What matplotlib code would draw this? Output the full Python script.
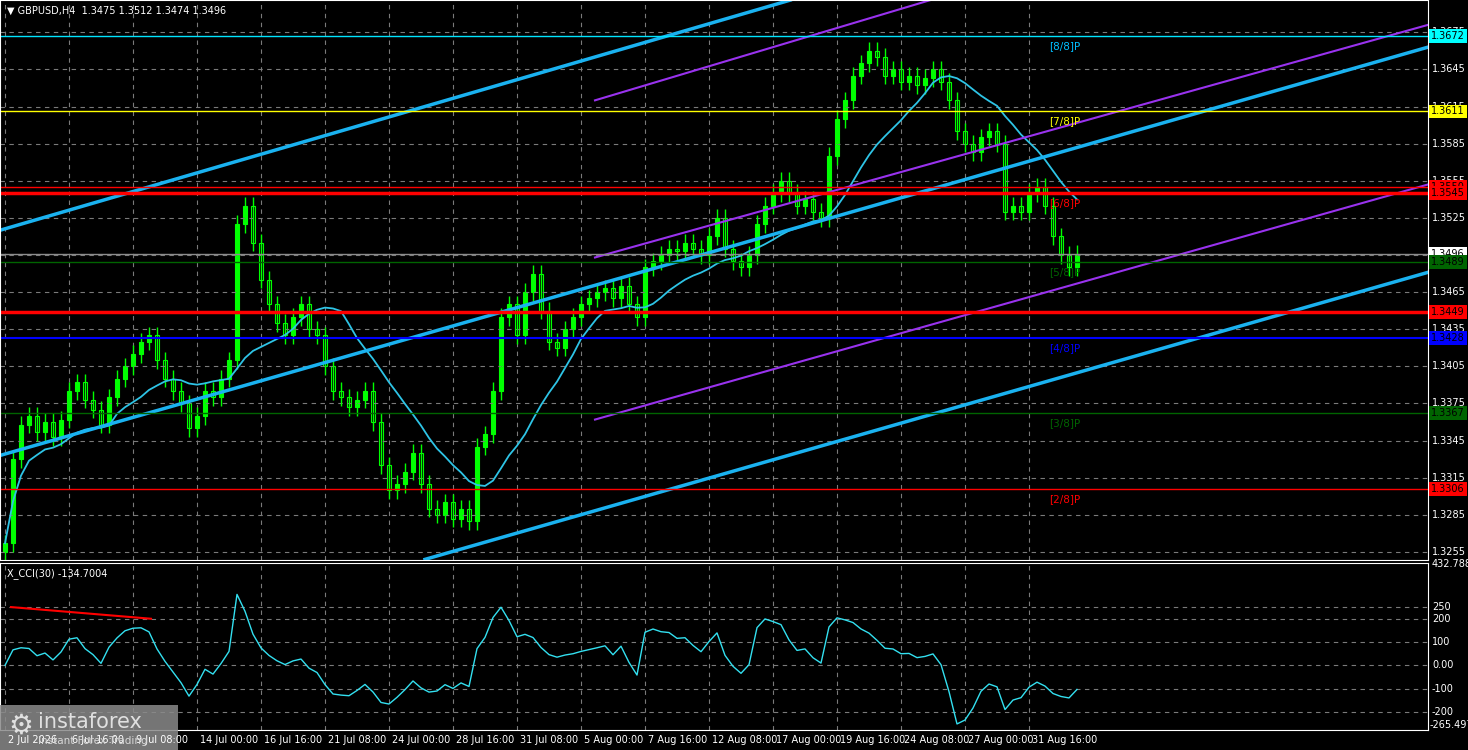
import matplotlib
matplotlib.use("Agg")
import matplotlib.pyplot as plt
import numpy as np
import pandas as pd

# closes, one candle per 2 H4 bars
closes = [1.3262, 1.3330, 1.3358, 1.3365, 1.3352, 1.3360, 1.3348, 1.3362, 1.3385, 1.3392,
          1.3378, 1.3370, 1.3358, 1.3380, 1.3395, 1.3405, 1.3415, 1.3425, 1.3430, 1.3410,
          1.3395, 1.3385, 1.3375, 1.3355, 1.3365, 1.3385, 1.3380, 1.3395, 1.3410, 1.3520,
          1.3535, 1.3505, 1.3475, 1.3455, 1.3440, 1.3430, 1.3445, 1.3455, 1.3435, 1.3430,
          1.3405, 1.3385, 1.3380, 1.3372, 1.3378, 1.3385, 1.3360, 1.3325, 1.3305, 1.3310,
          1.3320, 1.3335, 1.3310, 1.3290, 1.3285, 1.3295, 1.3282, 1.3290, 1.3280, 1.3340,
          1.3350, 1.3385, 1.3445, 1.3455, 1.3430, 1.3465, 1.3480, 1.3450, 1.3425, 1.3420,
          1.3435, 1.3445, 1.3455, 1.3460, 1.3465, 1.3468, 1.3460, 1.3470, 1.3455, 1.3445,
          1.3485, 1.3490, 1.3495, 1.3500, 1.3498, 1.3505, 1.3500, 1.3495, 1.3510, 1.3525,
          1.3500, 1.3490, 1.3485, 1.3495, 1.3520, 1.3535, 1.3545, 1.3555, 1.3545, 1.3535,
          1.3540, 1.3530, 1.3525, 1.3575, 1.3605, 1.3620, 1.3640, 1.3650, 1.3660, 1.3655,
          1.3640, 1.3645, 1.3635, 1.3640, 1.3632, 1.3638, 1.3645, 1.3635, 1.3620, 1.3595,
          1.3585, 1.3578, 1.3590, 1.3595, 1.3585, 1.3530, 1.3535, 1.3530, 1.3545, 1.3550,
          1.3535, 1.3510, 1.3495, 1.3485, 1.3496]
first_open = 1.3255

x_labels = ["2 Jul 2026", "6 Jul 16:00", "9 Jul 08:00", "14 Jul 00:00", "16 Jul 16:00",
            "21 Jul 08:00", "24 Jul 00:00", "28 Jul 16:00", "31 Jul 08:00", "5 Aug 00:00",
            "7 Aug 16:00", "12 Aug 08:00", "17 Aug 00:00", "19 Aug 16:00", "24 Aug 08:00",
            "27 Aug 00:00", "31 Aug 16:00"]

# horizontal levels: price, colour, width, murrey label, label colour
levels = [(1.3672, "#00e5ff", 1, "[8/8]P", "#00bfff"),
          (1.3611, "#ffff00", 1, "[7/8]P", "#ffff00"),
          (1.3550, "#ff0000", 1, "", ""),
          (1.3545, "#ff0000", 2.5, "[6/8]P", "#ff0000"),
          (1.3496, "#8c8c8c", 1, "", ""),
          (1.3489, "#006400", 1, "[5/8]P", "#006400"),
          (1.3449, "#ff0000", 2.5, "", ""),
          (1.3428, "#0000ff", 1.5, "[4/8]P", "#0000ff"),
          (1.3367, "#006400", 1, "[3/8]P", "#006400"),
          (1.3306, "#ff0000", 1, "[2/8]P", "#ff0000")]
box_colors = {1.3672: "#00ffff", 1.3611: "#ffff00", 1.3550: "#ff0000", 1.3545: "#ff0000",
              1.3496: "white", 1.3489: "#006400", 1.3449: "#ff0000", 1.3428: "#0000ff",
              1.3367: "#006400", 1.3306: "#ff0000"}

cci_levels = [250, 200, 100, 0, -100, -200]
cci_labels = ["250", "200", "100", "0.00", "-100", "-200"]

# channel lines (bar index, price)
cyan_lines = [((-1.25, 1.3515), (196.3, 1.3701)),
              ((-1.25, 1.3333), (355.75, 1.3663)),
              ((105, 1.3249), (355.75, 1.3481))]
purple_lines = [((147.5, 1.3620), (231.3, 1.3701)),
                ((147.5, 1.3493), (355.75, 1.3681)),
                ((147.5, 1.3362), (355.75, 1.3552))]

bg = "black"
fig = plt.figure(figsize=(14.68, 7.5), dpi=100, facecolor=bg)
ax = fig.add_axes([0, 190 / 750, 1428 / 1468, 560 / 750], facecolor=bg)
ax2 = fig.add_axes([0, 20 / 750, 1428 / 1468, 167 / 750], facecolor=bg)

c = np.array(closes)
o = np.concatenate([[first_open], c[:-1]])
idx = np.arange(len(c)) * 2
hi = np.maximum(o, c) + 0.0007
lo = np.minimum(o, c) - 0.0007

for a in (ax, ax2):
    a.set_xlim(-1.25, 355.75)
    for s in a.spines.values():
        s.set_color("white")
    for t in range(0, 17):
        a.axvline(t * 16, color="#7a7a7a", ls=(0, (4, 4)), lw=0.8)

ax.set_ylim(1.32485, 1.37011)
for p in np.arange(1.3255, 1.370, 0.003):
    ax.axhline(p, color="#7a7a7a", ls=(0, (4, 4)), lw=0.8)

ax.vlines(idx, lo, hi, color="#00ff00", lw=1)
for i in range(len(c)):
    up = c[i] >= o[i]
    ax.bar(idx[i], max(abs(c[i] - o[i]), 0.0001), bottom=min(o[i], c[i]), width=0.9,
           color="#00ff00" if up else "black", edgecolor="#00ff00", lw=0.8)

ma = pd.Series(c).rolling(14, min_periods=1).mean()
ax.plot(idx, ma, color="#2ec4e6", lw=1.3)

for (x0, y0), (x1, y1) in cyan_lines:
    ax.plot([x0, x1], [y0, y1], color="#1ab2f0", lw=2.5)
for (x0, y0), (x1, y1) in purple_lines:
    ax.plot([x0, x1], [y0, y1], color="#9932ee", lw=1.5)

for p, col, w, lab, lc in levels:
    ax.axhline(p, color=col, lw=w)
    if lab:
        ax.text(261, p - 0.0004, lab, color=lc, fontsize=7.5, va="top")

ax.set_yticks([])
ax.set_xticks([])
for p in np.arange(1.3255, 1.370, 0.003):
    fig.text(1432 / 1468, ax.transData.transform((0, p))[1] / 750, "%.4f" % p,
             color="white", fontsize=7, va="center")
for p, fc in box_colors.items():
    fig.text(1431 / 1468, ax.transData.transform((0, p))[1] / 750, "%.4f" % p,
             color="black", fontsize=7, va="center",
             bbox=dict(boxstyle="square,pad=0.2", fc=fc, ec="none"))

ax.text(0.005, 0.99, "\u25bc GBPUSD,H4  1.3475 1.3512 1.3474 1.3496", transform=ax.transAxes,
        color="white", fontsize=7, va="top")

# CCI
tp = pd.Series(c)
sma = tp.rolling(15, min_periods=1).mean()
md = tp.rolling(15, min_periods=1).apply(lambda v: np.mean(np.abs(v - v.mean())), raw=True)
cci = ((tp - sma) / (0.015 * md.replace(0, np.nan))).fillna(0).clip(-260, 430)
ax2.set_ylim(-277, 439)
for lv in cci_levels:
    ax2.axhline(lv, color="#7a7a7a", ls=(0, (4, 4)), lw=0.8)
ax2.plot(idx, cci, color="#33e0f0", lw=1)
ax2.plot([1.5, 36.5], [250, 200], color="red", lw=1.5)
ax2.set_yticks([])
ax2.set_xticks([])
ax2.text(0.005, 0.97, "X_CCI(30) -134.7004", transform=ax2.transAxes, color="white",
         fontsize=7, va="top")
for lv, lab in zip(cci_levels, cci_labels):
    fig.text(1432 / 1468, ax2.transData.transform((0, lv))[1] / 750, lab,
             color="white", fontsize=7, va="center")
fig.text(1432 / 1468, ax2.transData.transform((0, 432.788))[1] / 750, "432.788",
         color="white", fontsize=7, va="center")
fig.text(1430 / 1468, 25 / 750, "-265.497", color="white", fontsize=7, va="center")

for t, lab in enumerate(x_labels):
    fig.text(ax.transData.transform((t * 16, 0))[0] / 1468 + 0.002, 10 / 750, lab,
             color="white", fontsize=7, va="center")

fig.patches.append(plt.Rectangle((0, 0), 178 / 1468, 45 / 750, transform=fig.transFigure,
                                 fc="#8a8a8a", ec="none", alpha=0.85))
fig.text(38 / 1468, 28 / 750, "instaforex", color="#e0e0e0", fontsize=15, va="center")
fig.text(38 / 1468, 9 / 750, "Instant Forex Trading", color="#d8d8d8", fontsize=7.5,
         va="center")
fig.text(8 / 1468, 24 / 750, "\u2699", color="#e0e0e0", fontsize=20, va="center")

fig.savefig("out.png", dpi=100, facecolor=bg)
